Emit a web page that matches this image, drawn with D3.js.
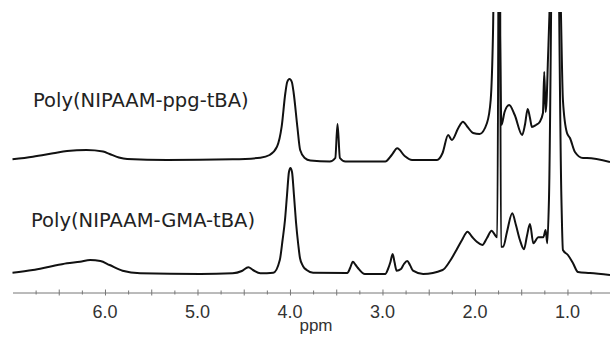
<!DOCTYPE html>
<html>
<head>
<meta charset="utf-8">
<script src="https://cdn.jsdelivr.net/npm/d3@7"></script>
<style>
  body { margin: 0; background: #fff; }
</style>
</head>
<body>
<div id="chart"></div>
<script>
var chartWidth = 610;
var chartHeight = 337;

// Upper spectrum (ppm, intensity above baseline)
var topPpm = [7.00, 6.78, 6.56, 6.41, 6.20, 6.02, 5.95, 5.85, 5.76, 5.33, 4.62, 4.32, 4.22, 4.14, 4.09, 4.05, 4.03,
  4.005, 3.98, 3.96, 3.92, 3.89, 3.84, 3.78, 3.57, 3.51, 3.486, 3.46, 3.40, 2.97, 2.90, 2.84, 2.76, 2.68,
  2.41, 2.35, 2.29, 2.25, 2.18, 2.13, 2.08, 2.02, 1.95, 1.87, 1.83, 1.805, 1.768, 1.73, 1.714, 1.68, 1.63,
  1.57, 1.49, 1.46, 1.43, 1.405, 1.384, 1.34, 1.30, 1.265, 1.251, 1.236, 1.225, 1.211, 1.195, 1.135, 1.07,
  1.049, 1.005, 0.973, 0.919, 0.832, 0.789, 0.54];
var topIntensity = [0.7, 3.3, 6.7, 9, 10, 8.5, 6, 2.5, 1, 0, 0.7, 2.3, 5, 13.3, 33.3, 67, 78,
  81, 78, 67, 33, 10, 2, -0.5, -1.5, 2, 36, 2, -1.5, -1.5, 5, 11.7, 4, 0,
  0, 7, 25, 20, 32, 38.3, 33, 27, 26, 37, 60, 127, 400, 130, 35, 48, 55,
  45, 25, 35, 51, 42, 33, 35, 38, 47, 88, 48, 60, 100, 145, 500, 145,
  60, 27, 22, 8, 2, 2, -2];

// Lower spectrum
var bottomPpm = [7.00, 6.78, 6.60, 6.41, 6.27, 6.16, 6.05, 5.95, 5.81, 5.62, 4.97, 4.62, 4.52, 4.45, 4.40,
  4.32, 4.18, 4.11, 4.08, 4.054, 4.032, 4.011, 3.995, 3.978, 3.957, 3.935, 3.91, 3.892, 3.86, 3.82, 3.75,
  3.38, 3.35, 3.32, 3.29, 3.265, 3.19, 2.97, 2.94, 2.914, 2.89, 2.87, 2.847, 2.80, 2.768, 2.732, 2.703,
  2.67, 2.56, 2.35, 2.27, 2.20, 2.14, 2.08, 2.03, 1.98, 1.92, 1.87, 1.82, 1.784, 1.759, 1.735, 1.719,
  1.694, 1.654, 1.597, 1.557, 1.514, 1.47, 1.438, 1.405, 1.369, 1.315, 1.261, 1.236, 1.218, 1.20, 1.135,
  1.065, 1.049, 0.995, 0.941, 0.886, 0.757, 0.54];
var bottomIntensity = [1.3, 4, 7.3, 10.7, 12.3, 14, 13, 9, 3.3, 0.7, 0, 0.7, 3, 6.7, 4,
  0.7, 1.3, 14, 34, 54, 79, 102, 106, 102, 79, 52, 29, 16, 8, 4, 1.3,
  1, 6, 12.3, 9, 6, 0, 0, 5, 12, 20, 12, 3.3, 5, 10, 13, 9,
  3.3, 0, 4, 13, 24, 34, 42.3, 37, 32.3, 29, 36, 43.3, 39, 36.7, 500, 27.3,
  27.3, 42, 60.7, 49, 34, 24.7, 38, 50, 30.7, 36.7, 36.7, 44, 30.7, 74, 600,
  74, 24, 19, 11, 2, 1, -1];

var traceLabels = ['Poly(NIPAAM-ppg-tBA)', 'Poly(NIPAAM-GMA-tBA)'];
var majorTicks = [6, 5, 4, 3, 2, 1];
var axisTitle = 'ppm';

// Create SVG Element
var svg = d3.select('#chart')
    .append('svg')
    .attr('width', chartWidth)
    .attr('height', chartHeight)
    .style('font-family', 'Liberation Sans, Arial, sans-serif');

// Create Scales (ppm runs right to left)
var scaleX = d3.scaleLinear()
    .domain([7.0, 0.54])
    .range([12.5, 610]);

var scaleTop = d3.scaleLinear()
    .domain([0, 100])
    .range([160, 60]);

var scaleBottom = d3.scaleLinear()
    .domain([0, 100])
    .range([274, 174]);

svg.append('clipPath')
    .attr('id', 'plot-clip')
    .append('rect')
    .attr('x', 0)
    .attr('y', 12)
    .attr('width', chartWidth)
    .attr('height', 280);

// Create Lines
function drawTrace(ppm, intensity, scaleY) {
  var points = d3.zip(ppm, intensity);
  var line = d3.line()
      .x(function(d) {
        return scaleX(d[0]);
      })
      .y(function(d) {
        return scaleY(d[1]);
      })
      .curve(d3.curveMonotoneX);

  svg.append('path')
      .datum(points)
      .attr('clip-path', 'url(#plot-clip)')
      .attr('fill', 'none')
      .attr('stroke', '#111')
      .attr('stroke-width', 2)
      .attr('stroke-linejoin', 'round')
      .attr('d', line);
}

drawTrace(topPpm, topIntensity, scaleTop);
drawTrace(bottomPpm, bottomIntensity, scaleBottom);

// Create Labels
svg.append('text')
    .attr('x', 33)
    .attr('y', 107)
    .attr('font-family', 'DejaVu Sans, sans-serif')
    .attr('font-size', 19.5)
    .attr('fill', '#222')
    .text(traceLabels[0]);

svg.append('text')
    .attr('x', 31)
    .attr('y', 227)
    .attr('font-family', 'DejaVu Sans, sans-serif')
    .attr('font-size', 19.5)
    .attr('fill', '#222')
    .text(traceLabels[1]);

// Create Axis
var minorTicks = d3.range(0.75, 7.0, 0.25);

var axis = svg.append('g')
    .attr('transform', 'translate(0, 292.5)')
    .call(d3.axisBottom(scaleX)
        .tickValues(minorTicks)
        .tickSize(2)
        .tickSizeOuter(0)
        .tickFormat(''));

axis.select('.domain').attr('stroke', '#777');
axis.selectAll('.tick line')
    .attr('stroke', '#777')
    .attr('y1', function(d) {
      return Math.abs(d * 2 - Math.round(d * 2)) < 0.01 ? -3 : -2;
    })
    .attr('y2', function(d) {
      return Math.abs(d * 2 - Math.round(d * 2)) < 0.01 ? 3 : 2;
    });

svg.selectAll('.major-label')
    .data(majorTicks)
    .enter()
    .append('text')
    .attr('class', 'major-label')
    .attr('x', function(d) {
      return scaleX(d);
    })
    .attr('y', 318)
    .attr('text-anchor', 'middle')
    .attr('font-size', 18)
    .attr('fill', '#333')
    .text(function(d) {
      return d3.format('.1f')(d);
    });

svg.append('text')
    .attr('x', 316)
    .attr('y', 331)
    .attr('text-anchor', 'middle')
    .attr('font-size', 17)
    .attr('fill', '#333')
    .text(axisTitle);
</script>
</body>
</html>
